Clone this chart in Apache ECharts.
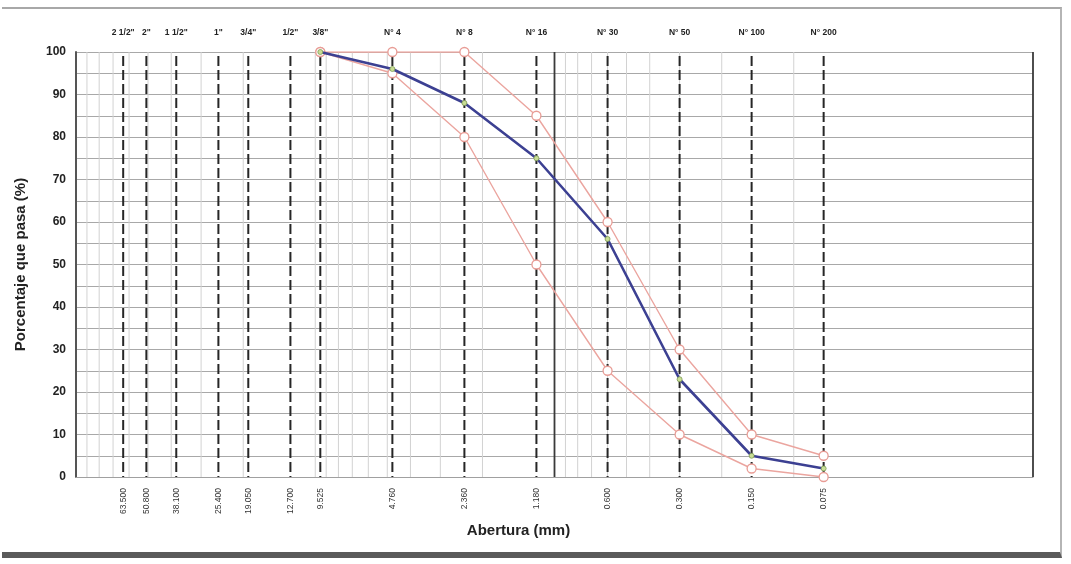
<!DOCTYPE html>
<html>
<head>
<meta charset="utf-8">
<script src="https://cdn.jsdelivr.net/npm/echarts@6/dist/echarts.min.js"></script>
<style>
html,body{margin:0;padding:0;background:#fff;}
#wrap{position:relative;width:1071px;height:564px;overflow:hidden;background:#fff;}
#chart{position:absolute;left:0;top:0;width:1071px;height:564px;}
#frame{position:absolute;left:2px;top:7px;width:1058px;height:543px;border-top:2px solid #a8a8a8;border-right:2px solid #b5b5b5;border-bottom:6px solid #5a5a5a;pointer-events:none;}
</style>
</head>
<body>
<div id="wrap"><div id="chart"></div><div id="frame"></div></div>
<script>
// ---- data ----
const sieveNames = ['2 1/2"', '2"', '1 1/2"', '1"', '3/4"', '1/2"', '3/8"', 'N° 4', 'N° 8', 'N° 16', 'N° 30', 'N° 50', 'N° 100', 'N° 200'];
const sieveSizes = [63.5, 50.8, 38.1, 25.4, 19.05, 12.7, 9.525, 4.76, 2.38, 1.19, 0.6, 0.3, 0.15, 0.075];
const sieveLabels = ['63.500', '50.800', '38.100', '25.400', '19.050', '12.700', '9.525', '4.760', '2.360', '1.180', '0.600', '0.300', '0.150', '0.075'];

const curveSizes = [9.525, 4.76, 2.38, 1.19, 0.6, 0.3, 0.15, 0.075];
const muestra = [100, 96, 88, 75, 56, 23, 5, 2];
const limiteSuperior = [100, 100, 100, 85, 60, 30, 10, 5];
const limiteInferior = [100, 95, 80, 50, 25, 10, 2, 0];

const gridValues = [90, 80, 70, 60, 50, 40, 30, 20, 10, 9, 8, 7, 6, 5, 4, 3, 2, 0.9, 0.8, 0.7, 0.6, 0.5, 0.4, 0.3, 0.2, 0.1];
const majorGridValues = [1, 0.01];

const yTicks = { min: 0, max: 100, interval: 10 };

// ---- chart ----
const chart = echarts.init(document.getElementById('chart'), null, { renderer: 'canvas' });
const FONT = '"Liberation Sans", Arial, sans-serif';

function pairs(xs, ys) { return xs.map((x, i) => [x, ys[i]]); }

function gridRender(color, width) {
  return function (params, api) {
    const v = api.value(0);
    const p1 = api.coord([v, yTicks.max]);
    const p2 = api.coord([v, yTicks.min]);
    return {
      type: 'line',
      shape: { x1: p1[0], y1: p1[1], x2: p2[0], y2: p2[1] },
      style: { stroke: color, lineWidth: width },
      silent: true
    };
  };
}

const option = {
  animation: false,
  backgroundColor: '#fff',
  grid: { left: 76, right: 38, top: 52, bottom: 87, containLabel: false },
  xAxis: {
    type: 'log',
    logBase: 10,
    min: 0.01,
    max: 100,
    inverse: true,
    name: 'Abertura (mm)',
    nameLocation: 'middle',
    nameGap: 46,
    nameTextStyle: { fontFamily: FONT, fontWeight: 'bold', fontSize: 15, color: '#222', padding: [0, 72, 0, 0] },
    axisLine: { show: true, lineStyle: { color: '#a0a0a0', width: 1 } },
    axisTick: { show: false },
    axisLabel: { show: false },
    splitLine: { show: false }
  },
  yAxis: {
    type: 'value',
    min: yTicks.min,
    max: yTicks.max,
    interval: yTicks.interval,
    name: 'Porcentaje que pasa (%)',
    nameLocation: 'middle',
    nameGap: 48,
    nameTextStyle: { fontFamily: FONT, fontWeight: 'bold', fontSize: 15, color: '#222' },
    axisLine: { show: true, lineStyle: { color: '#555', width: 2 } },
    axisTick: { show: false },
    axisLabel: { fontFamily: FONT, fontWeight: 'bold', fontSize: 12, color: '#222', margin: 10 },
    splitLine: { show: true, lineStyle: { color: '#a8a8a8', width: 1 } },
    minorTick: { show: false, splitNumber: 2 },
    minorSplitLine: { show: true, lineStyle: { color: '#a8a8a8', width: 1 } }
  },
  series: [
    {
      type: 'custom',
      name: 'grid',
      silent: true,
      z: 1,
      data: gridValues.map(v => [v, 0]),
      renderItem: gridRender('#d2d2d2', 1)
    },
    {
      type: 'custom',
      name: 'gridMajor',
      silent: true,
      z: 1,
      data: majorGridValues.map(v => [v, 0]),
      renderItem: gridRender('#3a3a3a', 1.8)
    },
    {
      type: 'custom',
      name: 'tamices',
      silent: true,
      clip: false,
      z: 2,
      data: sieveSizes.map((s, i) => [s, 0, i]),
      renderItem: function (params, api) {
        const s = api.value(0);
        const i = api.value(2);
        const top = api.coord([s, yTicks.max]);
        const bot = api.coord([s, yTicks.min]);
        return {
          type: 'group',
          children: [
            {
              type: 'line',
              shape: { x1: top[0], y1: top[1] + 4, x2: bot[0], y2: bot[1] },
              style: { stroke: '#262626', lineWidth: 2, lineDash: [10, 4] }
            },
            {
              type: 'text',
              x: top[0], y: top[1] - 19,
              style: { text: sieveNames[i], x: 0, y: 0, align: 'center', verticalAlign: 'middle', font: 'bold 8.5px ' + FONT, fill: '#222' }
            },
            {
              type: 'text',
              x: bot[0], y: bot[1] + 11,
              rotation: Math.PI / 2,
              style: { text: sieveLabels[i], x: 0, y: 0, align: 'right', verticalAlign: 'middle', font: '8.5px ' + FONT, fill: '#333' }
            }
          ]
        };
      }
    },
    {
      type: 'line',
      name: 'Límite inferior',
      z: 3,
      data: pairs(curveSizes, limiteInferior),
      lineStyle: { color: '#eba59f', width: 1.4 },
      itemStyle: { color: '#fff', borderColor: '#e89c95', borderWidth: 1.3 },
      symbol: 'circle',
      symbolSize: 9,
      showAllSymbol: true
    },
    {
      type: 'line',
      name: 'Límite superior',
      z: 3,
      data: pairs(curveSizes, limiteSuperior),
      lineStyle: { color: '#eba59f', width: 1.4 },
      itemStyle: { color: '#fff', borderColor: '#e89c95', borderWidth: 1.3 },
      symbol: 'circle',
      symbolSize: 9,
      showAllSymbol: true
    },
    {
      type: 'line',
      name: 'Muestra',
      z: 4,
      data: pairs(curveSizes, muestra),
      lineStyle: { color: '#3c4092', width: 2.6 },
      itemStyle: { color: '#c9de96', borderColor: '#7d9a55', borderWidth: 0.8 },
      symbol: 'circle',
      symbolSize: 5,
      showAllSymbol: true
    }
  ]
};
chart.setOption(option);
</script>
</body>
</html>
